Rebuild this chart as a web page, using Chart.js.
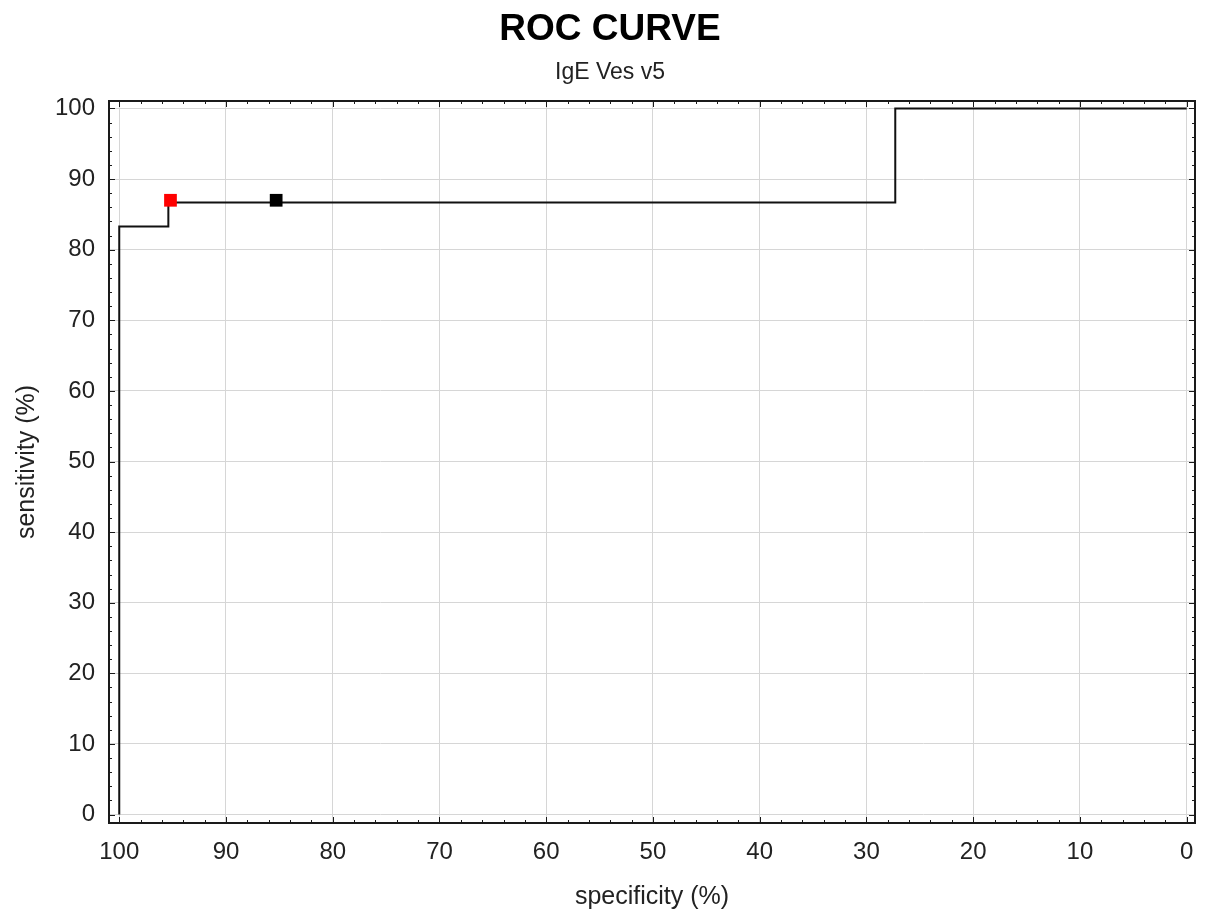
<!DOCTYPE html>
<html>
<head>
<meta charset="utf-8">
<script src="https://cdn.jsdelivr.net/npm/chart.js@4"></script>
<style>
  html, body { margin: 0; padding: 0; background: #ffffff; }
  #wrap { width: 1206px; height: 916px; position: relative; }
</style>
</head>
<body>
<div id="wrap"><canvas id="c"></canvas></div>
<script>
// ---- data ----
const rocSpecificity = [100, 100, 95.4, 27.3, 0];
const rocSensitivity = [0, 83.3, 86.7, 100, 100];
const markerSpecificity = [95.2, 85.3];
const markerSensitivity = [87.0, 87.0];
const markerColors = ['#ff0000', '#000000'];
const majorTicks = [0, 10, 20, 30, 40, 50, 60, 70, 80, 90, 100];
const minorStep = 2;

const FONT = "'Liberation Sans', Arial, sans-serif";
const xRange = { min: -0.78, max: 100.96 };
const yRange = { min: -1.19, max: 101.06 };

const rocPoints = rocSpecificity.map((s, i) => ({ x: s, y: rocSensitivity[i] }));
const markerPoints = markerSpecificity.map((s, i) => ({ x: s, y: markerSensitivity[i] }));

const framePlugin = {
  id: 'frame',
  afterDatasetsDraw(chart) {
    const { ctx, chartArea: a, scales: { x, y } } = chart;
    ctx.save();
    ctx.strokeStyle = '#1a1a1a';
    ctx.lineWidth = 1;
    const minorVals = [];
    for (let v = 0; v <= 100; v += minorStep) minorVals.push(v);
    ctx.beginPath();
    minorVals.forEach(v => {
      const len = (v % 10 === 0) ? 6 : 3;
      const px = Math.round(x.getPixelForValue(v)) + 0.5;
      ctx.moveTo(px, a.bottom); ctx.lineTo(px, a.bottom - len);
      ctx.moveTo(px, a.top); ctx.lineTo(px, a.top + len);
      const py = Math.round(y.getPixelForValue(v)) + 0.5;
      ctx.moveTo(a.left, py); ctx.lineTo(a.left + len, py);
      ctx.moveTo(a.right, py); ctx.lineTo(a.right - len, py);
    });
    ctx.stroke();
    ctx.lineWidth = 2;
    ctx.strokeRect(a.left, a.top, a.right - a.left, a.bottom - a.top);
    ctx.restore();
  }
};

new Chart(document.getElementById('c'), {
  type: 'scatter',
  data: {
    datasets: [
      {
        label: 'markers',
        data: markerPoints,
        showLine: false,
        pointStyle: 'rect',
        pointRadius: 9,
        pointHoverRadius: 9,
        pointBackgroundColor: markerColors,
        pointBorderColor: markerColors,
        pointBorderWidth: 0,
        order: 0
      },
      {
        label: 'ROC',
        data: rocPoints,
        showLine: true,
        stepped: 'before',
        borderColor: '#111111',
        borderWidth: 2,
        pointRadius: 0,
        pointHoverRadius: 0,
        fill: false,
        order: 1
      }
    ]
  },
  options: {
    responsive: true,
    maintainAspectRatio: false,
    animation: false,
    layout: { padding: { left: 25, right: 11, top: 0, bottom: 0 } },
    plugins: {
      legend: { display: false },
      tooltip: { enabled: false },
      title: {
        display: true,
        text: 'ROC CURVE',
        color: '#000000',
        font: { family: FONT, size: 37, weight: 'bold', lineHeight: 1.2 },
        padding: { top: 8, bottom: 0 }
      },
      subtitle: {
        display: true,
        text: 'IgE Ves v5',
        color: '#222222',
        font: { family: FONT, size: 23, lineHeight: 1.2 },
        padding: { top: 6, bottom: 15 }
      }
    },
    scales: {
      x: {
        type: 'linear',
        reverse: true,
        min: xRange.min,
        max: xRange.max,
        afterBuildTicks: s => { s.ticks = majorTicks.map(v => ({ value: v })); },
        afterFit: s => { s.height = 93; },
        grid: { color: '#d6d6d6', lineWidth: 1, drawTicks: false },
        border: { display: false },
        ticks: {
          color: '#222222',
          padding: 15,
          maxRotation: 0,
          autoSkip: false,
          font: { family: FONT, size: 24 },
          callback: v => String(v)
        },
        title: {
          display: true,
          text: 'specificity (%)',
          color: '#222222',
          font: { family: FONT, size: 25 },
          padding: { top: 0, bottom: 4 }
        }
      },
      y: {
        type: 'linear',
        min: yRange.min,
        max: yRange.max,
        afterBuildTicks: s => { s.ticks = majorTicks.map(v => ({ value: v })); },
        afterFit: s => { s.width = 84; },
        grid: { color: '#d6d6d6', lineWidth: 1, drawTicks: false },
        border: { display: false },
        ticks: {
          color: '#222222',
          padding: 14,
          autoSkip: false,
          font: { family: FONT, size: 24 },
          callback: v => String(v)
        },
        title: {
          display: true,
          text: 'sensitivity (%)',
          color: '#222222',
          font: { family: FONT, size: 25 },
          padding: { top: -13, bottom: 0 }
        }
      }
    }
  },
  plugins: [framePlugin]
});
</script>
</body>
</html>
